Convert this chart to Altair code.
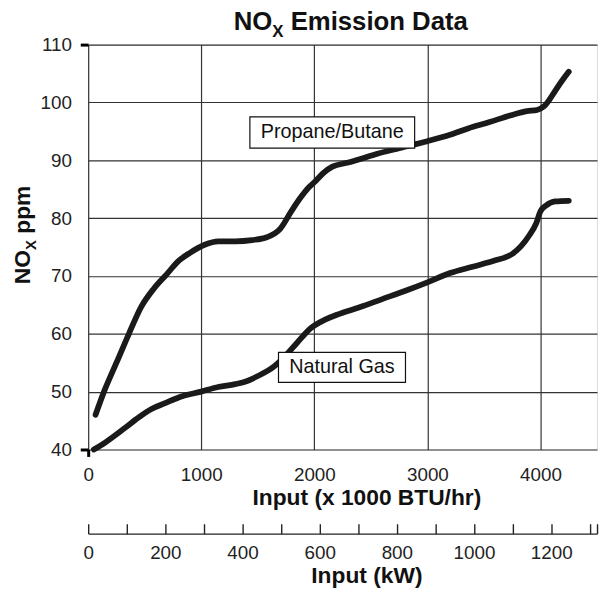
import altair as alt
import pandas as pd

# ---------------- data ----------------
propane_x = [65, 140, 250, 360, 470, 580, 690, 800, 900, 1030, 1150, 1300, 1450, 1580, 1700,
             1800, 1880, 1950, 2000, 2080, 2160, 2300, 2450, 2550, 2750, 3000, 3200, 3360,
             3550, 3740, 3880, 3970, 4030, 4080, 4130, 4200, 4250]
propane_y = [46.0, 50.0, 55.0, 60.0, 64.7, 67.8, 70.2, 72.6, 74.0, 75.4, 76.0, 76.0, 76.2, 76.7,
             78.2, 81.3, 83.6, 85.3, 86.2, 87.8, 88.9, 89.6, 90.5, 91.1, 92.1, 93.3, 94.4, 95.5,
             96.6, 97.8, 98.5, 98.7, 99.3, 100.5, 102.0, 104.0, 105.3]

gas_x = [50, 150, 330, 450, 560, 680, 800, 1000, 1150, 1300, 1400, 1500, 1640, 1750, 1850,
         1970, 2100, 2200, 2400, 2600, 2800, 3000, 3200, 3400, 3600, 3750, 3830, 3900, 3960,
         4000, 4050, 4130, 4250]
gas_y = [40.0, 41.2, 43.8, 45.6, 47.0, 48.0, 49.0, 50.0, 50.8, 51.3, 51.8, 52.7, 54.3, 56.3,
         58.5, 61.0, 62.5, 63.3, 64.6, 66.0, 67.4, 68.9, 70.5, 71.6, 72.7, 73.8, 75.2, 77.0,
         79.0, 81.2, 82.2, 82.9, 83.0]

series_names = ["Propane/Butane", "Natural Gas"]
label_x1 = [1430, 1683]
label_x2 = [2887, 2806]
label_y1 = [92.1, 51.6]
label_y2 = [97.5, 56.8]
label_tx = [2158, 2244]
label_ty = [94.8, 54.2]

btu_ticks = [0, 1000, 2000, 3000, 4000]
y_ticks = [40, 50, 60, 70, 80, 90, 100, 110]
kw_ticks = [0, 100, 200, 300, 400, 500, 600, 700, 800, 900, 1000, 1100, 1200, 1300, 1318.8]
btu_domain = [0, 4500]
kw_domain = [0, 1318.8]
y_domain = [40, 110]

# ---------------- tables ----------------
lines_df = pd.DataFrame(
    {"x": propane_x + gas_x,
     "y": propane_y + gas_y,
     "series": [series_names[0]] * len(propane_x) + [series_names[1]] * len(gas_x)}
)
labels_df = pd.DataFrame({"label": series_names, "x1": label_x1, "x2": label_x2,
                          "y1": label_y1, "y2": label_y2, "tx": label_tx, "ty": label_ty})
kw_df = pd.DataFrame({"kw": kw_domain})

W, H = 514, 409
FONT = "Liberation Sans"
GRID = "#333333"

x_axis = alt.Axis(
    values=btu_ticks, format="d", grid=True, gridColor=GRID, gridWidth=1.2,
    domain=False, tickSize=7, tickWidth=3,
    tickColor={"condition": {"test": "datum.value === 0", "value": "black"}, "value": "transparent"},
    labelFontSize=19, labelColor="#222", labelPadding=24, labelBaseline="alphabetic",
    labelFlush=False, labelOverlap=False,
    title="Input (x 1000 BTU/hr)", titleFontSize=23, titleFontWeight="bold", titleColor="#111",
    titleX=281, titleY=56, titleBaseline="alphabetic",
)
y_axis = alt.Axis(
    values=y_ticks, grid=True, gridColor=GRID, gridWidth=1.2, domain=False,
    tickSize=8, tickWidth=3,
    tickColor={"condition": {"test": "datum.value === 40 || datum.value === 110", "value": "black"},
               "value": "transparent"},
    labelFontSize=19, labelColor="#222", labelPadding=9, title=None,
)
kw_axis = alt.Axis(
    orient="top", offset=-494, values=kw_ticks, format="d", grid=False,
    domain=True, domainColor="#222", domainWidth=1.4,
    tickSize=10, tickWidth=1.4, tickColor="#222",
    labelExpr="datum.value % 200 === 0 ? datum.label : ''",
    labelFontSize=19, labelColor="#222", labelBaseline="alphabetic", labelPadding=-35,
    labelFlush=False, labelOverlap=False,
    title="Input (kW)", titleFontSize=23, titleFontWeight="bold", titleColor="#111",
    titleX=281, titleY=49, titleBaseline="alphabetic",
)

xs = alt.Scale(domain=btu_domain, nice=False, zero=False)
ys = alt.Scale(domain=y_domain, nice=False, zero=False)

lines = alt.Chart(lines_df).mark_line(
    color="#1a1a1a", strokeWidth=5.8, strokeCap="round", strokeJoin="round", interpolate="monotone"
).encode(
    x=alt.X("x:Q", scale=xs, axis=x_axis),
    y=alt.Y("y:Q", scale=ys, axis=y_axis),
    detail="series:N",
)

boxes = alt.Chart(labels_df).mark_rect(fill="white", stroke="#111", strokeWidth=1.2).encode(
    x=alt.X("x1:Q", scale=xs, axis=x_axis), x2="x2:Q",
    y=alt.Y("y1:Q", scale=ys, axis=y_axis), y2="y2:Q",
)
texts = alt.Chart(labels_df).mark_text(fontSize=20, font=FONT, color="#111", baseline="middle").encode(
    x=alt.X("tx:Q", scale=xs, axis=x_axis),
    y=alt.Y("ty:Q", scale=ys, axis=y_axis),
    text="label:N",
)

one = alt.Data(values=[{}])
# title: NO_X Emission Data
t1 = alt.Chart(one).mark_text(text="NO", fontSize=26, fontWeight="bold", font=FONT, align="right",
                              baseline="alphabetic", color="#111").encode(x=alt.value(186), y=alt.value(-15))
t2 = alt.Chart(one).mark_text(text="X", fontSize=17, fontWeight="bold", font=FONT, align="left",
                              baseline="alphabetic", color="#111").encode(x=alt.value(186), y=alt.value(-8))
t3 = alt.Chart(one).mark_text(text="Emission Data", fontSize=26, fontWeight="bold", font=FONT, align="left",
                              baseline="alphabetic", color="#111").encode(x=alt.value(204.5), y=alt.value(-15))
# y title: NO_X ppm (rotated)
q = 207.5
y1t = alt.Chart(one).mark_text(text="NO", fontSize=23, fontWeight="bold", font=FONT, align="right", angle=270,
                               baseline="alphabetic", color="#111").encode(x=alt.value(-58.5), y=alt.value(q))
y2t = alt.Chart(one).mark_text(text="X", fontSize=15, fontWeight="bold", font=FONT, align="left", angle=270,
                               baseline="alphabetic", color="#111").encode(x=alt.value(-52.5), y=alt.value(q))
y3t = alt.Chart(one).mark_text(text="ppm", fontSize=23, fontWeight="bold", font=FONT, align="left", angle=270,
                               baseline="alphabetic", color="#111").encode(x=alt.value(-58.5), y=alt.value(q - 16.5))

main = alt.layer(lines, boxes, texts, t1, t2, t3, y1t, y2t, y3t)

kw_layer = alt.Chart(kw_df).mark_point(opacity=0).encode(
    x=alt.X("kw:Q", scale=alt.Scale(domain=kw_domain, nice=False, zero=False), axis=kw_axis)
)

chart = alt.layer(main, kw_layer).resolve_scale(x="independent").properties(
    width=W, height=H,
    autosize=alt.AutoSizeParams(type="none"),
    padding={"left": 81, "top": 34, "right": 3, "bottom": 142},
).configure_view(stroke="black", strokeWidth=3).configure(font=FONT)

chart.save("out.html", embed_options={"renderer": "svg", "actions": False})
